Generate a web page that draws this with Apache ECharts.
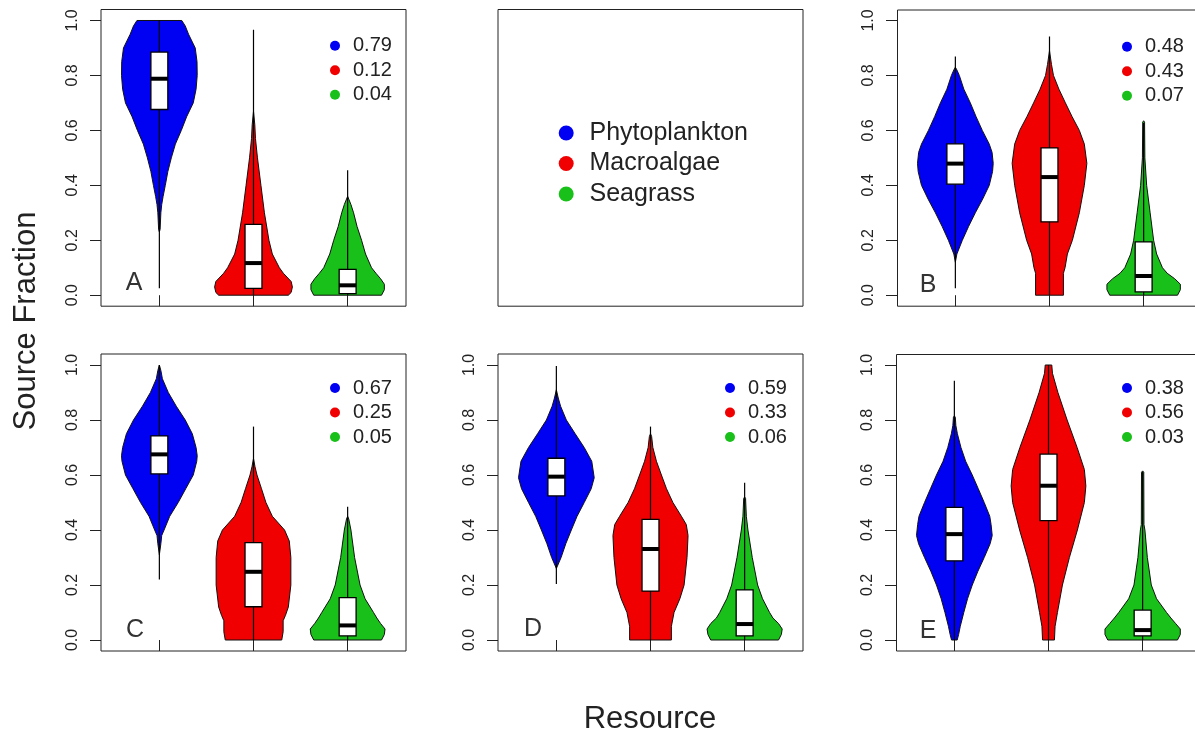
<!DOCTYPE html>
<html>
<head>
<meta charset="utf-8">
<script src="https://cdn.jsdelivr.net/npm/echarts@6/dist/echarts.min.js"></script>
<style>html,body{margin:0;padding:0;background:#fff}#chart{width:1195px;height:735px}</style>
</head>
<body>
<div id="chart"></div>
<script>
// ---------------- DATA ----------------
const resources = ['Phytoplankton', 'Macroalgae', 'Seagrass'];
const panelLetters = ['A', 'B', 'C', 'D', 'E'];
const yTickValues = [0, 0.2, 0.4, 0.6, 0.8, 1.0];
const xTickValues = [1, 2, 3];

// mean source fractions shown in each panel
const meansA = [0.79, 0.12, 0.04];
const meansB = [0.48, 0.43, 0.07];
const meansC = [0.67, 0.25, 0.05];
const meansD = [0.59, 0.33, 0.06];
const meansE = [0.38, 0.56, 0.03];

// box stats per resource: [lineMin, q1, median, q3, lineMax]
const boxA = [[0.025, 0.676, 0.788, 0.885, 1.0], [0.0, 0.025, 0.117, 0.258, 0.966], [0.0, 0.006, 0.036, 0.094, 0.455]];
const boxB = [[0.025, 0.404, 0.479, 0.551, 0.869], [0.0, 0.267, 0.430, 0.536, 0.942], [0.0, 0.012, 0.070, 0.194, 0.627]];
const boxC = [[0.22, 0.604, 0.675, 0.742, 1.0], [0.0, 0.121, 0.248, 0.354, 0.776], [0.0, 0.015, 0.053, 0.154, 0.485]];
const boxD = [[0.204, 0.524, 0.594, 0.661, 0.996], [0.0, 0.178, 0.331, 0.439, 0.776], [0.0, 0.015, 0.058, 0.182, 0.572]];
const boxE = [[0.0, 0.288, 0.385, 0.482, 0.943], [0.0, 0.434, 0.561, 0.676, 1.0], [0.0, 0.015, 0.036, 0.109, 0.612]];

// violin density profiles: [fraction, half-width in category units]
const violinA = [
  [[0.23,0],[0.24,0.008],[0.30,0.016],[0.33,0.025],[0.36,0.04],[0.40,0.063],[0.45,0.09],[0.50,0.127],[0.55,0.17],[0.60,0.233],[0.65,0.29],[0.70,0.36],[0.75,0.39],[0.80,0.402],[0.85,0.40],[0.90,0.381],[0.95,0.31],[0.98,0.275],[1.0,0.238]],
  [[0.0,0.37],[0.01,0.40],[0.03,0.413],[0.05,0.40],[0.08,0.317],[0.10,0.275],[0.15,0.2],[0.20,0.164],[0.30,0.116],[0.40,0.079],[0.50,0.042],[0.57,0.021],[0.62,0.014],[0.67,0]],
  [[0.0,0.36],[0.02,0.39],[0.04,0.39],[0.06,0.35],[0.08,0.30],[0.10,0.254],[0.15,0.19],[0.20,0.148],[0.25,0.10],[0.30,0.063],[0.33,0.035],[0.36,0]]
];
const violinB = [
  [[0.12,0],[0.15,0.016],[0.20,0.074],[0.25,0.14],[0.30,0.212],[0.35,0.29],[0.40,0.36],[0.45,0.395],[0.48,0.402],[0.52,0.39],[0.55,0.36],[0.60,0.286],[0.65,0.22],[0.70,0.159],[0.75,0.09],[0.80,0.042],[0.82,0.016],[0.83,0]],
  [[0.0,0.148],[0.08,0.148],[0.10,0.165],[0.15,0.19],[0.20,0.243],[0.30,0.317],[0.40,0.37],[0.48,0.397],[0.55,0.37],[0.60,0.317],[0.65,0.24],[0.70,0.169],[0.75,0.10],[0.80,0.042],[0.84,0.021],[0.89,0]],
  [[0.0,0.36],[0.02,0.39],[0.04,0.39],[0.06,0.33],[0.08,0.25],[0.10,0.20],[0.15,0.138],[0.20,0.106],[0.30,0.069],[0.40,0.032],[0.50,0.013],[0.63,0.01],[0.635,0]]
];
const violinC = [
  [[0.31,0],[0.35,0.016],[0.38,0.025],[0.40,0.05],[0.45,0.11],[0.50,0.20],[0.55,0.28],[0.60,0.36],[0.65,0.397],[0.67,0.402],[0.70,0.39],[0.75,0.35],[0.80,0.275],[0.85,0.18],[0.90,0.095],[0.95,0.032],[0.98,0.016],[1.0,0]],
  [[0.0,0.30],[0.03,0.315],[0.07,0.315],[0.09,0.34],[0.12,0.37],[0.20,0.397],[0.30,0.397],[0.36,0.38],[0.40,0.33],[0.45,0.20],[0.50,0.132],[0.55,0.085],[0.60,0.037],[0.63,0.016],[0.66,0]],
  [[0.0,0.36],[0.02,0.39],[0.04,0.397],[0.06,0.35],[0.08,0.31],[0.10,0.275],[0.15,0.185],[0.20,0.132],[0.30,0.074],[0.40,0.035],[0.44,0.012],[0.45,0]]
];
const violinD = [
  [[0.26,0],[0.30,0.05],[0.35,0.10],[0.40,0.159],[0.45,0.22],[0.50,0.296],[0.55,0.37],[0.59,0.402],[0.65,0.376],[0.70,0.296],[0.75,0.20],[0.80,0.106],[0.85,0.045],[0.88,0.02],[0.91,0]],
  [[0.0,0.222],[0.05,0.222],[0.10,0.25],[0.15,0.312],[0.20,0.357],[0.30,0.388],[0.38,0.399],[0.42,0.38],[0.45,0.328],[0.50,0.238],[0.55,0.17],[0.60,0.116],[0.65,0.063],[0.70,0.025],[0.74,0.012],[0.75,0]],
  [[0.0,0.36],[0.02,0.39],[0.04,0.399],[0.06,0.36],[0.08,0.30],[0.10,0.265],[0.15,0.19],[0.20,0.138],[0.30,0.081],[0.40,0.035],[0.45,0.018],[0.515,0.01],[0.52,0]]
];
const violinE = [
  [[0.0,0.03],[0.02,0.045],[0.05,0.063],[0.10,0.10],[0.15,0.14],[0.20,0.19],[0.25,0.25],[0.30,0.317],[0.35,0.38],[0.38,0.402],[0.42,0.39],[0.45,0.376],[0.50,0.317],[0.55,0.254],[0.60,0.19],[0.65,0.12],[0.70,0.07],[0.75,0.032],[0.78,0.016],[0.81,0.01],[0.815,0]],
  [[0.0,0.063],[0.05,0.07],[0.10,0.095],[0.20,0.148],[0.30,0.222],[0.40,0.307],[0.50,0.381],[0.56,0.397],[0.62,0.381],[0.70,0.304],[0.80,0.198],[0.90,0.10],[0.97,0.042],[1.0,0.035]],
  [[0.0,0.37],[0.02,0.40],[0.04,0.40],[0.06,0.35],[0.08,0.30],[0.10,0.254],[0.15,0.148],[0.20,0.092],[0.30,0.05],[0.40,0.024],[0.42,0.014],[0.61,0.012],[0.615,0]]
];

// ---------------- STYLE / LAYOUT ----------------
const colors = ['#0000f2', '#f00000', '#19c019'];
const FONT = 'Liberation Sans, Arial, sans-serif';
const TXT = '#222';
const BOX_HALF = 0.09;

const panels = [
  { letter: panelLetters[0], means: meansA, box: boxA, violin: violinA, grid: { left: 101, top: 9.5, width: 305, height: 296.7 }, leg: [338, 40.7], let: [134, 283], cut: false },
  { letter: panelLetters[1], means: meansB, box: boxB, violin: violinB, grid: { left: 897, top: 9.5, width: 305, height: 296.7 }, leg: [1130, 41.7], let: [928, 285], cut: true },
  { letter: panelLetters[2], means: meansC, box: boxC, violin: violinC, grid: { left: 101, top: 354, width: 305, height: 297 }, leg: [338, 383], let: [135, 630], cut: false },
  { letter: panelLetters[3], means: meansD, box: boxD, violin: violinD, grid: { left: 498, top: 354, width: 305, height: 297 }, leg: [733, 383], let: [533, 629], cut: false },
  { letter: panelLetters[4], means: meansE, box: boxE, violin: violinE, grid: { left: 896, top: 354, width: 305, height: 297 }, leg: [1130, 383], let: [928, 631], cut: true }
];
const legendGrid = { left: 498, top: 9.5, width: 305, height: 296.7 };

function violinRender(prof, stats, color) {
  return function (params, api) {
    const cx = api.value(0);
    const pts = [];
    for (const [y, w] of prof) pts.push(api.coord([cx - w, y]));
    for (let i = prof.length - 1; i >= 0; i--) pts.push(api.coord([cx + prof[i][1], prof[i][0]]));
    const [lo, q1, med, q3, hi] = stats;
    const pLo = api.coord([cx, lo]), pHi = api.coord([cx, hi]);
    const b1 = api.coord([cx - BOX_HALF, q3]), b2 = api.coord([cx + BOX_HALF, q1]);
    const m1 = api.coord([cx - BOX_HALF, med]), m2 = api.coord([cx + BOX_HALF, med]);
    return {
      type: 'group',
      children: [
        { type: 'polygon', shape: { points: pts }, style: { fill: color, stroke: '#111', lineWidth: 1 } },
        { type: 'line', shape: { x1: pLo[0], y1: pLo[1], x2: pHi[0], y2: pHi[1] }, style: { stroke: '#000', lineWidth: 1.2 } },
        { type: 'rect', shape: { x: b1[0], y: b1[1], width: b2[0] - b1[0], height: b2[1] - b1[1] }, style: { fill: '#fff', stroke: '#000', lineWidth: 1.3 } },
        { type: 'line', shape: { x1: m1[0], y1: m1[1], x2: m2[0], y2: m2[1] }, style: { stroke: '#000', lineWidth: 4 } }
      ]
    };
  };
}

const grids = [], xAxes = [], yAxes = [], series = [], legends = [], frames = [];
const gridBase = { show: true, borderColor: '#222', borderWidth: 1, backgroundColor: 'transparent', containLabel: false, outerBoundsMode: 'none' };

panels.forEach((p) => {
  const g = Object.assign({}, gridBase, p.grid);
  if (p.cut) {
    // panel runs off the right edge of the picture: draw its frame as an open outline
    g.show = false;
    const l = p.grid.left + 0.5, t = p.grid.top + 0.5, r = p.grid.left + p.grid.width, b = p.grid.top + p.grid.height;
    frames.push({ type: 'polyline', silent: true, shape: { points: [[r, t], [l, t], [l, b], [r, b]] }, style: { stroke: '#222', lineWidth: 1, fill: null } });
  }
  grids.push(g);
});
grids.push(Object.assign({}, gridBase, legendGrid));

panels.forEach((p, gi) => {
  xAxes.push({
    type: 'value', gridIndex: gi, min: 0.38, max: 3.62,
    axisLine: { show: false }, splitLine: { show: false },
    axisTick: { show: true, customValues: xTickValues, length: 11, lineStyle: { color: '#222', width: 1 } },
    axisLabel: { show: false }
  });
  yAxes.push({
    type: 'value', gridIndex: gi, min: -0.04, max: 1.04,
    axisLine: { show: false }, splitLine: { show: false },
    axisTick: { show: true, customValues: yTickValues, length: 11, lineStyle: { color: '#222', width: 1 } },
    axisLabel: { show: true, customValues: yTickValues, rotate: 90, margin: 20, fontSize: 16, fontFamily: FONT, color: TXT, formatter: (v) => v.toFixed(1) }
  });
  resources.forEach((name, r) => {
    series.push({
      type: 'custom', name: name, xAxisIndex: gi, yAxisIndex: gi,
      itemStyle: { color: colors[r] },
      data: [[r + 1, 0]],
      renderItem: violinRender(p.violin[r], p.box[r], colors[r]),
      silent: true
    });
  });
  legends.push({
    data: resources, orient: 'vertical', icon: 'circle',
    left: p.leg[0] - 13, top: p.leg[1] - 10,
    itemWidth: 26, itemHeight: 10, itemGap: 4.5, selectedMode: false,
    itemStyle: { borderWidth: 0 },
    textStyle: { fontSize: 20, lineHeight: 20, fontFamily: FONT, color: TXT, padding: 0 },
    formatter: (name) => p.means[resources.indexOf(name)].toFixed(2)
  });
});
// legend panel axes (hidden)
xAxes.push({ type: 'value', gridIndex: 5, min: 0, max: 1, show: false });
yAxes.push({ type: 'value', gridIndex: 5, min: 0, max: 1, show: false });

legends.push({
  data: resources, orient: 'vertical', icon: 'circle',
  left: 572 - 18.3, top: 128 - 12.5,
  itemWidth: 36.6, itemHeight: 15, itemGap: 5.5, selectedMode: false,
  itemStyle: { borderWidth: 0 },
  textStyle: { fontSize: 25, lineHeight: 25, fontFamily: FONT, color: TXT }
});

const option = {
  animation: false,
  backgroundColor: '#fff',
  grid: grids,
  xAxis: xAxes,
  yAxis: yAxes,
  legend: legends,
  series: series,
  graphic: [
    { type: 'text', x: 26, y: 321, rotation: Math.PI / 2, silent: true,
      style: { text: 'Source Fraction', font: '31px ' + FONT, fill: TXT, textAlign: 'center', textVerticalAlign: 'middle' } },
    { type: 'text', x: 650, y: 719, silent: true,
      style: { text: 'Resource', font: '31px ' + FONT, fill: TXT, textAlign: 'center', textVerticalAlign: 'middle' } }
  ].concat(panels.map((p) => ({
    type: 'text', x: p.let[0], y: p.let[1], silent: true,
    style: { text: p.letter, font: '25px ' + FONT, fill: '#333', textAlign: 'center', textVerticalAlign: 'middle' }
  }))).concat(frames)
};

const chart = echarts.init(document.getElementById('chart'), null, { renderer: 'canvas' });
chart.setOption(option);
</script>
</body>
</html>
